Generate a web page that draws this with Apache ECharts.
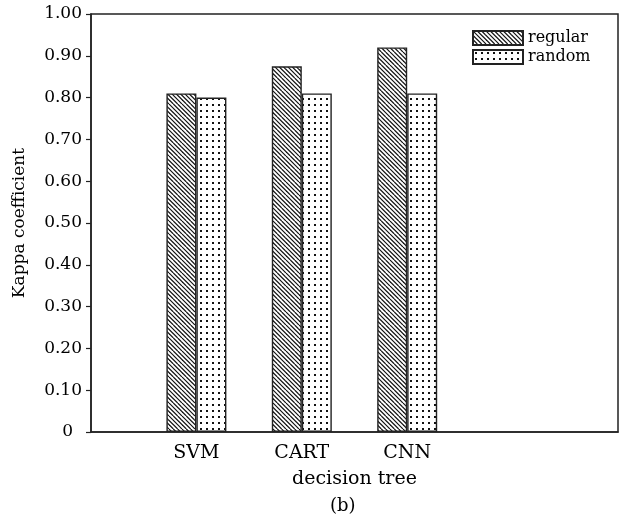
<!DOCTYPE html>
<html>
<head>
<meta charset="utf-8">
<script src="https://cdn.jsdelivr.net/npm/echarts@6/dist/echarts.min.js"></script>
<style>
html,body{margin:0;padding:0;background:#fff;}
#chart{width:624px;height:517px;}
</style>
</head>
<body>
<div id="chart"></div>
<script>
var categories = ['', 'SVM', 'CART', 'CNN', '', ''];
var regularValues = ['-', 0.81, 0.875, 0.92, '-', '-'];
var randomValues = ['-', 0.80, 0.81, 0.81, '-', '-'];
var seriesNames = ['regular', 'random'];
var yTicks = { min: 0, max: 1, interval: 0.1 };

function makeHatch() {
  var s = 13, c = document.createElement('canvas');
  c.width = s; c.height = s;
  var g = c.getContext('2d');
  g.fillStyle = '#fff'; g.fillRect(0, 0, s, s);
  g.strokeStyle = '#111'; g.lineWidth = 1.2;
  for (var k = -6; k <= 6; k++) {
    var off = k * s / 3;
    g.beginPath(); g.moveTo(off, 0); g.lineTo(off + s, s); g.stroke();
  }
  return c;
}
function makeDots() {
  var s = 6, c = document.createElement('canvas');
  c.width = s; c.height = s;
  var g = c.getContext('2d');
  g.fillStyle = '#fff'; g.fillRect(0, 0, s, s);
  g.fillStyle = '#111'; g.fillRect(2, 2, 2, 2);
  return c;
}

var font = 'DejaVu Serif';
var ink = '#000';
var chart = echarts.init(document.getElementById('chart'));
chart.setOption({
  animation: false,
  backgroundColor: '#fff',
  textStyle: { fontFamily: font, color: ink },
  grid: { left: 91, right: 6, top: 14, bottom: 85, show: true, borderColor: '#222', borderWidth: 1.5, backgroundColor: 'transparent' },
  legend: {
    orient: 'vertical', left: 467, top: 25, itemWidth: 50, itemHeight: 14, itemGap: 3,
    icon: 'rect',
    textStyle: { fontFamily: font, fontSize: 16, color: ink },
    data: seriesNames
  },
  xAxis: {
    type: 'category', data: categories, boundaryGap: false,
    axisLine: { lineStyle: { color: '#222', width: 1.5 } },
    axisTick: { show: false },
    axisLabel: { fontFamily: font, fontSize: 19, color: ink, margin: 12, interval: 0 },
    name: 'decision tree', nameLocation: 'middle', nameGap: 38,
    nameTextStyle: { fontFamily: font, fontSize: 19, color: ink },
    splitLine: { show: false }
  },
  yAxis: {
    type: 'value', min: yTicks.min, max: yTicks.max, interval: yTicks.interval,
    axisLine: { show: true, lineStyle: { color: '#222', width: 1.5 } },
    axisTick: { show: true, length: 5, lineStyle: { color: '#222', width: 1.2 } },
    axisLabel: {
      fontFamily: font, fontSize: 17, color: ink, margin: 9,
      formatter: function (v) { return Math.abs(v) < 1e-9 ? '{z|0}' : v.toFixed(2); },
      rich: { z: { fontFamily: font, fontSize: 17, color: ink, padding: [0, 9, 0, 0] } }
    },
    splitLine: { show: false },
    name: 'Kappa coefficient', nameLocation: 'middle', nameGap: 63,
    nameTextStyle: { fontFamily: font, fontSize: 17, color: ink }
  },
  graphic: [{
    type: 'text', left: 330, top: 497,
    style: { text: '(b)', font: '18px "DejaVu Serif"', fill: ink }
  }],
  series: [
    { name: seriesNames[0], type: 'bar', data: regularValues, barWidth: 30, barGap: '0%',
      itemStyle: { color: { image: makeHatch(), repeat: 'repeat' }, borderColor: '#222', borderWidth: 1.4 } },
    { name: seriesNames[1], type: 'bar', data: randomValues, barWidth: 30, barGap: '0%',
      itemStyle: { color: { image: makeDots(), repeat: 'repeat' }, borderColor: '#222', borderWidth: 1.4 } }
  ]
});
</script>
</body>
</html>
